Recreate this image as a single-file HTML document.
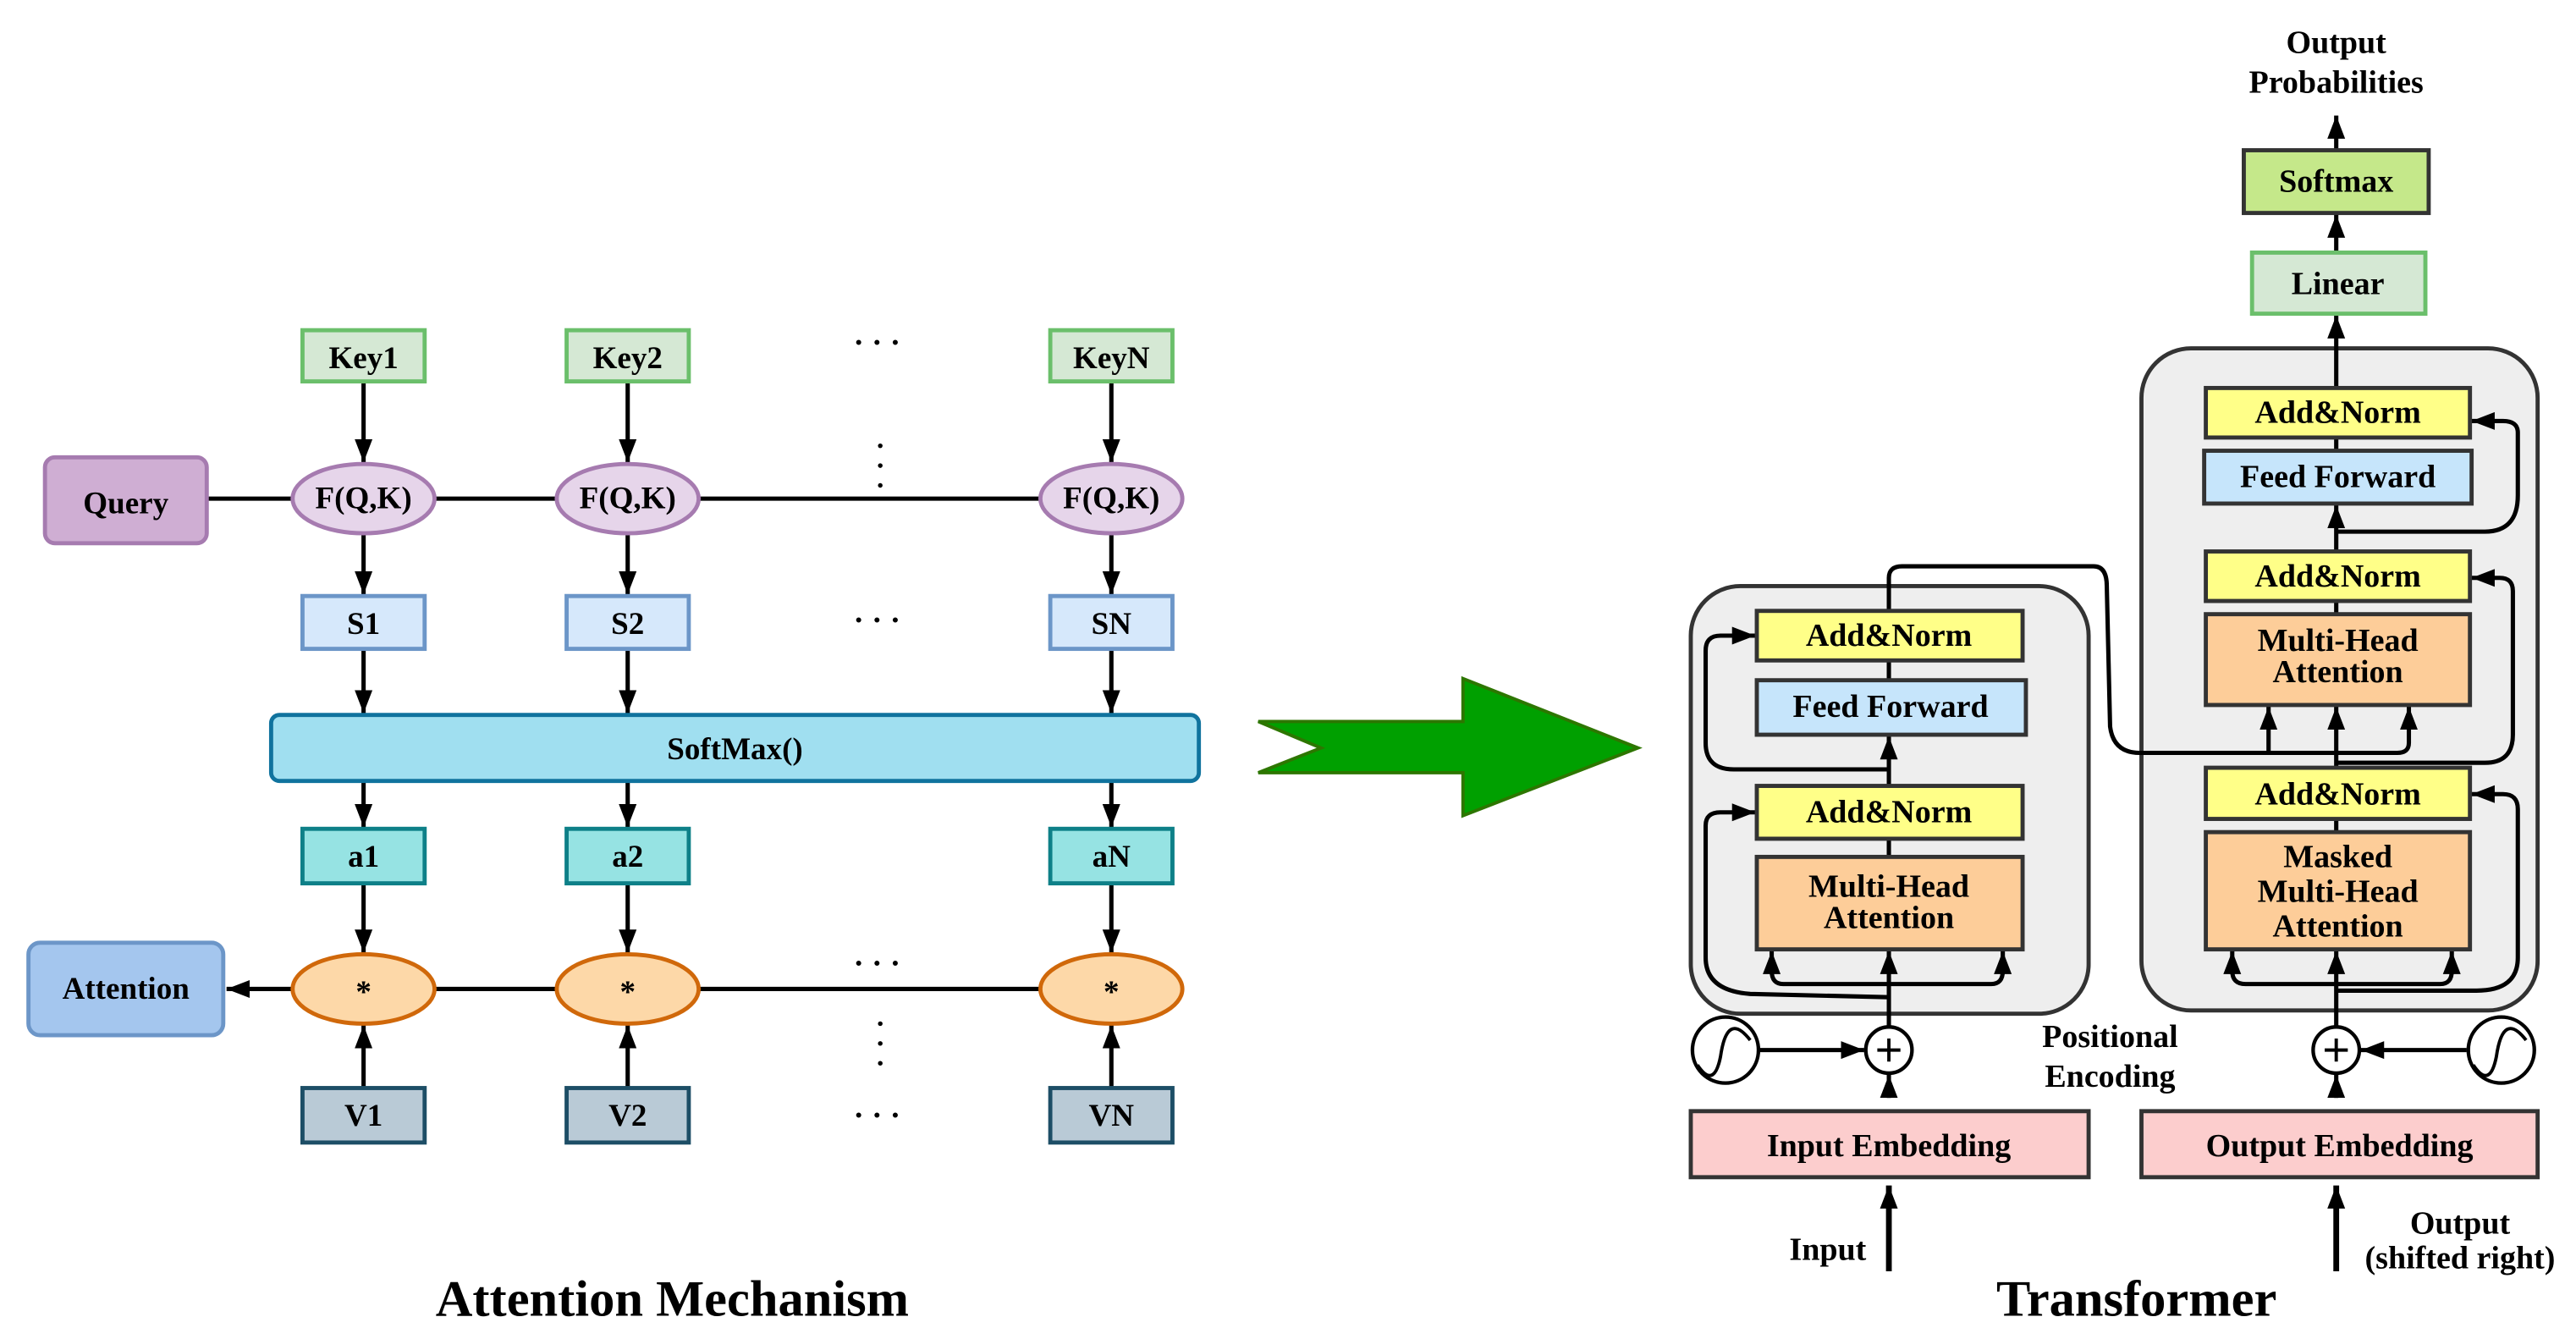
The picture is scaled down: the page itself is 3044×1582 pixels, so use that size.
<!DOCTYPE html>
<html><head><meta charset="utf-8"><style>
html,body{margin:0;padding:0;background:#fff;}
svg{display:block}
text{font-family:"Liberation Serif",serif;font-weight:bold;fill:#000;text-anchor:middle;dominant-baseline:central}
</style></head><body>
<svg width="3044" height="1582" viewBox="0 0 1560 811" xmlns="http://www.w3.org/2000/svg">
<defs>
<marker id="a" markerUnits="userSpaceOnUse" markerWidth="14" markerHeight="12" refX="13" refY="5" orient="auto" viewBox="0 0 13 10"><path d="M0,0 L13,5 L0,10 z" fill="#000"/></marker>
</defs>
<g stroke="#000" stroke-width="2.6" fill="none">
<line x1="125" y1="302" x2="630" y2="302"/>
<line x1="220" y1="231" x2="220" y2="280" marker-end="url(#a)"/>
<line x1="380" y1="231" x2="380" y2="280" marker-end="url(#a)"/>
<line x1="673" y1="231" x2="673" y2="280" marker-end="url(#a)"/>
<line x1="220" y1="323" x2="220" y2="360" marker-end="url(#a)"/>
<line x1="380" y1="323" x2="380" y2="360" marker-end="url(#a)"/>
<line x1="673" y1="323" x2="673" y2="360" marker-end="url(#a)"/>
<line x1="220" y1="393" x2="220" y2="432" marker-end="url(#a)"/>
<line x1="380" y1="393" x2="380" y2="432" marker-end="url(#a)"/>
<line x1="673" y1="393" x2="673" y2="432" marker-end="url(#a)"/>
<line x1="220" y1="473" x2="220" y2="501" marker-end="url(#a)"/>
<line x1="380" y1="473" x2="380" y2="501" marker-end="url(#a)"/>
<line x1="673" y1="473" x2="673" y2="501" marker-end="url(#a)"/>
<line x1="220" y1="535" x2="220" y2="577" marker-end="url(#a)"/>
<line x1="380" y1="535" x2="380" y2="577" marker-end="url(#a)"/>
<line x1="673" y1="535" x2="673" y2="577" marker-end="url(#a)"/>
<line x1="220" y1="659" x2="220" y2="621" marker-end="url(#a)"/>
<line x1="380" y1="659" x2="380" y2="621" marker-end="url(#a)"/>
<line x1="673" y1="659" x2="673" y2="621" marker-end="url(#a)"/>
<line x1="263" y1="599" x2="630" y2="599"/>
<line x1="177" y1="599" x2="137" y2="599" marker-end="url(#a)"/>
</g>
<g stroke-width="2.5">
<rect x="183" y="200" width="74" height="31" fill="#d5e8d4" stroke="#6bbf6b"/>
<rect x="343" y="200" width="74" height="31" fill="#d5e8d4" stroke="#6bbf6b"/>
<rect x="636" y="200" width="74" height="31" fill="#d5e8d4" stroke="#6bbf6b"/>
<rect x="27" y="277" width="98" height="52" rx="6" fill="#cfaed3" stroke="#a67bb0"/>
<ellipse cx="220" cy="302" rx="43" ry="21" fill="#e6d5ea" stroke="#a67bb0"/>
<ellipse cx="380" cy="302" rx="43" ry="21" fill="#e6d5ea" stroke="#a67bb0"/>
<ellipse cx="673" cy="302" rx="43" ry="21" fill="#e6d5ea" stroke="#a67bb0"/>
<rect x="183" y="361" width="74" height="32" fill="#d6e8fb" stroke="#6c96c8"/>
<rect x="343" y="361" width="74" height="32" fill="#d6e8fb" stroke="#6c96c8"/>
<rect x="636" y="361" width="74" height="32" fill="#d6e8fb" stroke="#6c96c8"/>
<rect x="164" y="433" width="562" height="40" rx="5" fill="#a0dff0" stroke="#10739e"/>
<rect x="183" y="502" width="74" height="33" fill="#96e3e3" stroke="#0e8088"/>
<rect x="343" y="502" width="74" height="33" fill="#96e3e3" stroke="#0e8088"/>
<rect x="636" y="502" width="74" height="33" fill="#96e3e3" stroke="#0e8088"/>
<rect x="17" y="571" width="118" height="56" rx="7" fill="#a4c6ee" stroke="#6c96c8"/>
<ellipse cx="220" cy="599" rx="43" ry="21" fill="#fdd8a8" stroke="#d0680a"/>
<ellipse cx="380" cy="599" rx="43" ry="21" fill="#fdd8a8" stroke="#d0680a"/>
<ellipse cx="673" cy="599" rx="43" ry="21" fill="#fdd8a8" stroke="#d0680a"/>
<rect x="183" y="659" width="74" height="33" fill="#b9cad6" stroke="#1d4e66"/>
<rect x="343" y="659" width="74" height="33" fill="#b9cad6" stroke="#1d4e66"/>
<rect x="636" y="659" width="74" height="33" fill="#b9cad6" stroke="#1d4e66"/>
</g>
<g font-size="19">
<text x="220" y="217">Key1</text><text x="380" y="217">Key2</text><text x="673" y="217">KeyN</text>
<text x="76" y="305">Query</text>
<text x="220" y="302">F(Q,K)</text><text x="380" y="302">F(Q,K)</text><text x="673" y="302">F(Q,K)</text>
<text x="220" y="378">S1</text><text x="380" y="378">S2</text><text x="673" y="378">SN</text>
<text x="445" y="454">SoftMax()</text>
<text x="220" y="519">a1</text><text x="380" y="519">a2</text><text x="673" y="519">aN</text>
<text x="76" y="599">Attention</text>
<text x="220" y="601">*</text><text x="380" y="601">*</text><text x="673" y="601">*</text>
<text x="220" y="676">V1</text><text x="380" y="676">V2</text><text x="673" y="676">VN</text>
<text x="531" y="208">· · ·</text><text x="531" y="376">· · ·</text><text x="531" y="584">· · ·</text><text x="531" y="676">· · ·</text>
</g>
<g fill="#000"><circle cx="533" cy="270" r="1.4"/><circle cx="533" cy="282" r="1.4"/><circle cx="533" cy="294" r="1.4"/>
<circle cx="533" cy="620" r="1.4"/><circle cx="533" cy="632" r="1.4"/><circle cx="533" cy="644" r="1.4"/></g>
<text x="407" y="787" font-size="31">Attention Mechanism</text>

<polygon points="762,437 886,437 886,411 992,453 886,494 886,468 762,468 800,453" fill="#00a000" stroke="#2d7600" stroke-width="2"/>

<rect x="1024" y="355" width="241" height="259" rx="30" fill="#eeeeee" stroke="#333" stroke-width="2.5"/>
<rect x="1297" y="211" width="240" height="401" rx="30" fill="#eeeeee" stroke="#333" stroke-width="2.5"/>

<g stroke="#000" stroke-width="2.6" fill="none">
<line x1="1144" y1="622" x2="1144" y2="576" marker-end="url(#a)"/>
<path d="M1144,596 L1080,596 Q1073,596 1073,588 L1073,576" marker-end="url(#a)"/>
<path d="M1144,596 L1206,596 Q1213,596 1213,588 L1213,576" marker-end="url(#a)"/>
<path d="M1144,604 L1060,602 Q1033,600 1033,580 L1033,500 Q1033,492 1042,492 L1063,492" marker-end="url(#a)"/>
<line x1="1144" y1="519" x2="1144" y2="508"/>
<line x1="1144" y1="476" x2="1144" y2="446" marker-end="url(#a)"/>
<line x1="1144" y1="412" x2="1144" y2="400"/>
<path d="M1144,466 L1050,466 Q1033,466 1033,450 L1033,394 Q1033,385 1042,385 L1063,385" marker-end="url(#a)"/>
<path d="M1144,370 L1144,350 Q1144,343 1152,343 L1268,343 Q1276,343 1276,355 L1278,440 Q1280,456 1296,456 L1452,456 Q1459,456 1459,450 L1459,428" marker-end="url(#a)"/>
<line x1="1374" y1="456" x2="1374" y2="428" marker-end="url(#a)"/>
<line x1="1144" y1="665" x2="1144" y2="651" marker-end="url(#a)"/>
<line x1="1066" y1="636" x2="1129" y2="636" marker-end="url(#a)"/>
<line x1="1144" y1="770" x2="1144" y2="718" stroke-width="3.5" marker-end="url(#a)"/>
<line x1="1415" y1="622" x2="1415" y2="576" marker-end="url(#a)"/>
<path d="M1415,596 L1360,596 Q1352,596 1352,588 L1352,576" marker-end="url(#a)"/>
<path d="M1415,596 L1478,596 Q1485,596 1485,588 L1485,576" marker-end="url(#a)"/>
<path d="M1415,600 L1500,600 Q1525,600 1525,580 L1525,490 Q1525,481 1516,481 L1497,481" marker-end="url(#a)"/>
<line x1="1415" y1="504" x2="1415" y2="496"/>
<line x1="1415" y1="465" x2="1415" y2="428" marker-end="url(#a)"/>
<path d="M1415,462 L1505,462 Q1522,462 1522,445 L1522,358 Q1522,350 1514,350 L1497,350" marker-end="url(#a)"/>
<line x1="1415" y1="372" x2="1415" y2="364"/>
<line x1="1415" y1="334" x2="1415" y2="306" marker-end="url(#a)"/>
<line x1="1415" y1="273" x2="1415" y2="265"/>
<path d="M1415,322 L1505,322 Q1525,322 1525,300 L1525,262 Q1525,255 1516,255 L1497,255" marker-end="url(#a)"/>
<line x1="1415" y1="235" x2="1415" y2="191" marker-end="url(#a)"/>
<line x1="1415" y1="153" x2="1415" y2="130" marker-end="url(#a)"/>
<line x1="1415" y1="91" x2="1415" y2="70" marker-end="url(#a)"/>
<line x1="1415" y1="665" x2="1415" y2="651" marker-end="url(#a)"/>
<line x1="1494" y1="636" x2="1430" y2="636" marker-end="url(#a)"/>
<line x1="1415" y1="770" x2="1415" y2="718" stroke-width="3.5" marker-end="url(#a)"/>
</g>
<g stroke="#333" stroke-width="2.5">
<rect x="1064" y="370" width="161" height="30" fill="#ffff88"/>
<rect x="1064" y="412" width="163" height="33" fill="#c6e5fb"/>
<rect x="1064" y="476" width="161" height="32" fill="#ffff88"/>
<rect x="1064" y="519" width="161" height="56" fill="#fdcd99"/>
<rect x="1024" y="673" width="241" height="40" fill="#fccdcd"/>
<rect x="1336" y="235" width="160" height="30" fill="#ffff88"/>
<rect x="1335" y="273" width="162" height="32" fill="#c6e5fb"/>
<rect x="1336" y="334" width="160" height="30" fill="#ffff88"/>
<rect x="1336" y="372" width="160" height="55" fill="#fdcd99"/>
<rect x="1336" y="465" width="160" height="31" fill="#ffff88"/>
<rect x="1336" y="504" width="160" height="71" fill="#fdcd99"/>
<rect x="1297" y="673" width="240" height="40" fill="#fccdcd"/>
<rect x="1359" y="91" width="112" height="38" fill="#c5e88a"/>
<rect x="1364" y="153" width="105" height="37" fill="#d5e8d4" stroke="#6bbf6b"/>
</g>
<g stroke="#000" stroke-width="2.2" fill="#fff">
<circle cx="1144" cy="636" r="14"/><circle cx="1415" cy="636" r="14"/>
<circle cx="1045" cy="636" r="20"/><circle cx="1515" cy="636" r="20"/>
</g>
<g stroke="#000" stroke-width="2" fill="none">
<path d="M1137,636 h14 M1144,629 v14 M1408,636 h14 M1415,629 v14"/>
<path d="M1028,645 Q1038,660 1042,640 Q1046,612 1060,630"/>
<path d="M1498,645 Q1508,660 1512,640 Q1516,612 1530,630"/>
</g>
<g font-size="19.5">
<text x="1144" y="385">Add&amp;Norm</text>
<text x="1145" y="428">Feed Forward</text>
<text x="1144" y="492">Add&amp;Norm</text>
<text x="1144" y="537">Multi-Head</text><text x="1144" y="556">Attention</text>
<text x="1144" y="694">Input Embedding</text>
<text x="1416" y="250">Add&amp;Norm</text>
<text x="1416" y="289">Feed Forward</text>
<text x="1416" y="349">Add&amp;Norm</text>
<text x="1416" y="388">Multi-Head</text><text x="1416" y="407">Attention</text>
<text x="1416" y="481">Add&amp;Norm</text>
<text x="1416" y="519">Masked</text><text x="1416" y="540">Multi-Head</text><text x="1416" y="561">Attention</text>
<text x="1417" y="694">Output Embedding</text>
<text x="1415" y="110">Softmax</text>
<text x="1416" y="172">Linear</text>
<text x="1415" y="26">Output</text><text x="1415" y="50">Probabilities</text>
<text x="1278" y="628">Positional</text><text x="1278" y="652">Encoding</text>
<text x="1107" y="757">Input</text>
<text x="1490" y="741">Output</text><text x="1490" y="762">(shifted right)</text>
</g>
<text x="1294" y="787" font-size="31">Transformer</text>
</svg>
</body></html>
